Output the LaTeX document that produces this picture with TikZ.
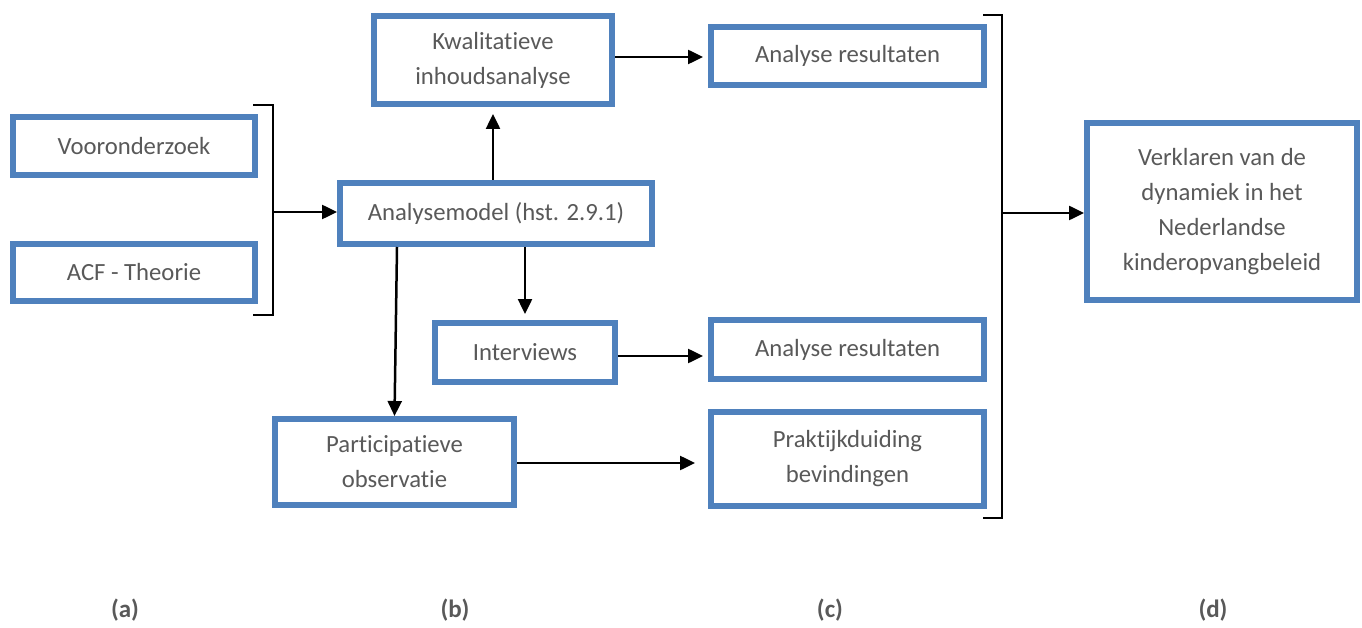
\documentclass[tikz,border=0pt]{standalone}
\usepackage{fontspec}
\setmainfont{Carlito}[RawFeature={-liga}]
\usetikzlibrary{arrows.meta,calc}
\definecolor{boxblue}{HTML}{4F81BD}
\definecolor{txtgray}{HTML}{595959}
\tikzset{
  stepbox/.style={draw=boxblue, line width=6pt, fill=white, rectangle, inner sep=0pt,
    align=center, text=txtgray, font=\fontsize{24.7}{35}\selectfont},
  conn/.style={line width=2.5pt, -{Triangle[length=15pt,width=14pt]}},
  brk/.style={line width=2pt},
  lbl/.style={text=txtgray, font=\fontsize{25}{30}\selectfont\bfseries}
}
\begin{document}
\begin{tikzpicture}[x=1pt,y=-1pt]
\useasboundingbox (0,0) rectangle (1362,628);

% column (a)
\node[stepbox, minimum width=242pt, minimum height=58pt] (voor) at (134,146) {Vooronderzoek};
\node[stepbox, minimum width=242pt, minimum height=57pt] (acf) at (134,272.5) {ACF - Theorie};

% column (b)
\node[stepbox, minimum width=238pt, minimum height=88pt] (kwal) at (493,60) {Kwalitatieve\\inhoudsanalyse};
\node[stepbox, minimum width=312pt, minimum height=61pt] (model) at (496,213.5) {Analysemodel (hst. 2.9.1)};
\node[stepbox, minimum width=180pt, minimum height=59pt] (inter) at (525,352.5) {Interviews};
\node[stepbox, minimum width=239pt, minimum height=86pt] (part) at (394.5,462) {Participatieve\\observatie};

% column (c)
\node[stepbox, minimum width=273pt, minimum height=58pt] (res1) at (847.5,56) {Analyse resultaten};
\node[stepbox, minimum width=273pt, minimum height=59pt] (res2) at (847.5,349.5) {Analyse resultaten};
\node[stepbox, minimum width=273pt, minimum height=94pt] (prak) at (847.5,459) {Praktijkduiding\\bevindingen};

% column (d)
\node[stepbox, minimum width=270pt, minimum height=177pt] (verk) at (1222,211.5) {Verklaren van de\\dynamiek in het\\Nederlandse\\kinderopvangbeleid};

% bracket joining the two inputs
\coordinate (b1a) at (253,105);
\coordinate (b1b) at (273,105);
\coordinate (b1c) at (273,315);
\coordinate (b1d) at (253,315);
\coordinate (b1m) at (273,212);
\draw[brk] (b1a) -- (b1b) -- (b1c) -- (b1d);
\draw[conn] (b1m) -- (b1m -| model.west);

% bracket joining the results
\coordinate (b2a) at (983,15);
\coordinate (b2b) at (1002,15);
\coordinate (b2c) at (1002,518);
\coordinate (b2d) at (983,518);
\coordinate (b2m) at (1002,213);
\draw[brk] (b2a) -- (b2b) -- (b2c) -- (b2d);
\draw[conn] (b2m) -- (b2m -| verk.west);

% flows out of the analysis model
\draw[conn, shorten >=7pt] (kwal.south |- model.north) -- (kwal.south);
\draw[conn, shorten >=6pt] (inter.north |- model.south) -- (inter.north);
\draw[conn] ($(model.south west)+(60,0)$) -- (part.north);

% flows into the results
\draw[conn, shorten >=5pt] ($(kwal.east)+(0,-3)$) -- ($(kwal.east -| res1.west)+(0,-3)$);
\draw[conn, shorten >=5pt] ($(inter.east)+(0,3.5)$) -- ($(inter.east -| res2.west)+(0,3.5)$);
\draw[conn, shorten >=13pt] ($(part.east)+(0,1)$) -- ($(part.east -| prak.west)+(0,1)$);

% column labels
\node[lbl] (la) at (125,610) {(a)};
\node[lbl] (lb) at (455,610) {(b)};
\node[lbl] (lc) at (830,610) {(c)};
\node[lbl] (ld) at (1213,610) {(d)};
\end{tikzpicture}
\end{document}
